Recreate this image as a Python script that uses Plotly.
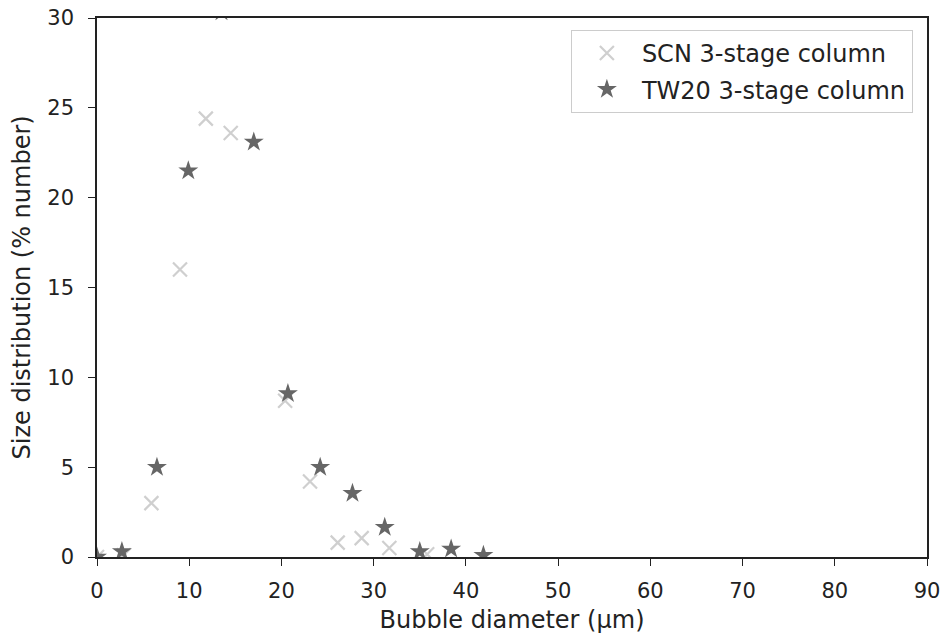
import plotly.graph_objects as go

# SCN 3-stage column
scn_x = [0, 2.9, 5.9, 9.0, 11.8, 14.5, 20.4, 23.1, 26.1, 28.7, 31.7, 35.8]
scn_y = [0, 0.1, 3.0, 16.0, 24.4, 23.6, 8.7, 4.2, 0.8, 1.05, 0.5, 0.15]

# TW20 3-stage column
tw_x = [0, 2.7, 6.5, 9.9, 13.5, 17.0, 20.7, 24.2, 27.7, 31.2, 35.0, 38.4, 41.9]
tw_y = [0, 0.3, 5.0, 21.5, 30.35, 23.1, 9.1, 5.0, 3.55, 1.65, 0.3, 0.45, 0.1]

x_ticks = [0, 10, 20, 30, 40, 50, 60, 70, 80, 90]
y_ticks = [0, 5, 10, 15, 20, 25, 30]

FONT = "DejaVu Sans"
fig = go.Figure()
fig.add_trace(go.Scatter(
    x=scn_x, y=scn_y, mode="markers", name="SCN 3-stage column",
    legendgroup="scn",
    marker=dict(symbol="x-thin-open", size=14, color="#cfcfcf",
                line=dict(color="#cfcfcf", width=2.2)),
))
fig.add_trace(go.Scatter(
    x=tw_x, y=tw_y, mode="markers", name="TW20 3-stage column",
    legendgroup="tw",
    marker=dict(symbol="star", size=15, color="#666666",
                line=dict(width=0)),
))

axis_common = dict(
    showline=True, linecolor="#222", linewidth=1.6, mirror=True,
    ticks="outside", ticklen=7, tickwidth=1.4, tickcolor="#222",
    showgrid=False, zeroline=False, automargin=False,
    ticklabeloverflow="allow",
    tickfont=dict(family=FONT, size=21, color="#222"),
)
fig.update_xaxes(range=[0, 90], tickvals=x_ticks, ticklabelstandoff=7,
                 title=dict(text="Bubble diameter (µm)", font=dict(family=FONT, size=24, color="#222"), standoff=9),
                 **axis_common)
fig.update_yaxes(range=[0, 30], tickvals=y_ticks, ticklabelstandoff=10,
                 **axis_common)

fig.add_annotation(
    text="Size distribution (% number)", textangle=-90,
    xref="paper", yref="paper", x=-0.0904, y=0.5,
    xanchor="center", yanchor="middle", showarrow=False,
    font=dict(family=FONT, size=24, color="#222"),
)

fig.update_layout(
    width=941, height=639,
    margin=dict(l=97, r=14, t=18, b=82),
    plot_bgcolor="white", paper_bgcolor="white",
    font=dict(family=FONT, size=24, color="#222"),
    legend=dict(x=0.983, y=0.978, xanchor="right", yanchor="top",
                bgcolor="white", bordercolor="#cccccc", borderwidth=1,
                itemwidth=60, tracegroupgap=2,
                font=dict(family=FONT, size=24, color="#222")),
)
# remove the browser's default 8px body margin so the figure sits at the page origin
fig.write_html("out.html", config={"displayModeBar": False},
               post_script="document.body.style.margin='0';")
